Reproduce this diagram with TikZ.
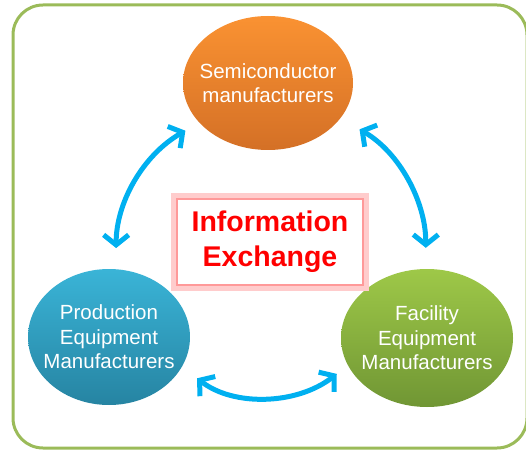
\documentclass[tikz,border=0pt]{standalone}
\usepackage{fontspec}
\setmainfont{Liberation Sans}
\usetikzlibrary{arrows.meta,shapes.geometric}

\definecolor{framegreen}{RGB}{155,187,89}
\definecolor{arrowblue}{RGB}{0,176,240}
\definecolor{semitop}{RGB}{250,146,50}
\definecolor{semibot}{RGB}{212,112,38}
\definecolor{prodtop}{RGB}{58,180,215}
\definecolor{prodbot}{RGB}{38,132,162}
\definecolor{factop}{RGB}{158,200,72}
\definecolor{facbot}{RGB}{112,150,52}

\begin{document}
\begin{tikzpicture}[x=1pt, y=1pt,
	party/.style={ellipse, inner xsep=-20pt, inner ysep=0pt, text=white, align=center,
		font=\fontsize{20.5}{24.5}\selectfont, shading=axis, shading angle=0},
	link/.style={arrowblue, line width=5pt,
		{Straight Barb[length=10pt,width=25pt,sharp]}-{Straight Barb[length=10pt,width=25pt,sharp]}}]
			%%%%% START %%%%%
			
			\useasboundingbox (0, 0) rectangle (526, 450);
			\draw[framegreen, line width=3pt, rounded corners=30pt] (13, 2) rectangle (527, 445);
			
			\node[party, minimum width=170pt, minimum height=134pt, top color=semitop, bottom color=semibot] (semi) at (268, 367) {Semiconductor\\manufacturers};
			\node[party, minimum width=162pt, minimum height=136pt, top color=prodtop, bottom color=prodbot] (prod) at (109, 113) {Production\\Equipment\\Manufacturers};
			\node[party, minimum width=172pt, minimum height=138pt, top color=factop, bottom color=facbot] (fac) at (427, 112) {Facility\\Equipment\\Manufacturers};
			
			\node[draw=red!40, line width=2.5pt, fill=white, preaction={draw=red!20, line width=12pt},
				minimum width=186pt, minimum height=86pt, align=center, text=red,
				font=\fontsize{28.5}{35}\selectfont\bfseries] (info) at (270, 208) {Information\\Exchange};
			
			\draw[link, shorten <=21pt, shorten >=16pt] (prod.84) to[out=90, in=210] (semi.210);
			\draw[link, shorten <=22pt, shorten >=21pt] (semi.-26) to[out=-30, in=90] (fac.91);
			\draw[link, shorten <=19pt, shorten >=14pt] (prod.-22) to[out=-38, in=218] (fac.199);
			
			%%%%% END %%%%%
\end{tikzpicture}
\end{document}
